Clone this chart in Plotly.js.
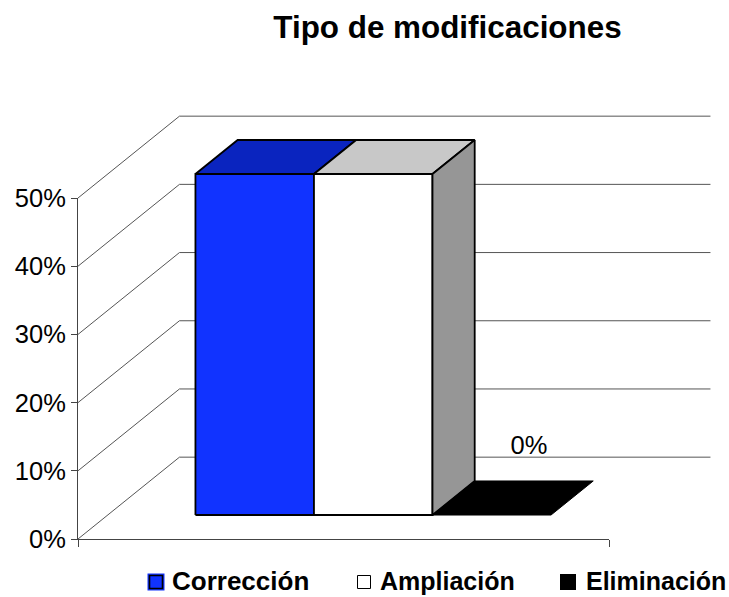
<!DOCTYPE html>
<html>
<head>
<meta charset="utf-8">
<script src="https://cdn.plot.ly/plotly-3.0.1.min.js"></script>
<style>html,body{margin:0;padding:0;background:#fff}</style>
</head>
<body>
<div id="chart" style="width:729px;height:597px"></div>
<script>
const categories = ["Corrección", "Ampliación", "Eliminación"];
const values = [50, 50, 0];
const gridValues = [0, 10, 20, 30, 40, 50];
const chartTitle = "Tipo de modificaciones";

const frontColors = ["#1133FF", "#FFFFFF", "#000000"];
const topColors = ["#0A24BF", "#C8C8C8", "#000000"];
const sideColor = "#969696";

const W = 729, H = 597;
const axisLeft = 78, axisRight = 609, axisTop = 198, axisBottom = 539;
const gapSlots = 0.74;
const xMax = 4.48;
const depthX = 0.856, depthY = 12;
const barNear = 0.293, barFar = 0.709;
const font = "Liberation Sans, Arial, sans-serif";

const slotPx = (axisRight - axisLeft) / xMax;
const pctPx = (axisBottom - axisTop) / 50;
const xFromPx = p => (p - axisLeft) / slotPx;
const yFromPx = p => (axisBottom - p) / pctPx;

const px = (u, d) => u + d * depthX;
const py = (v, d) => v + d * depthY;
const poly = (pts) => ({x: pts.map(p => px(p[0], p[2])), y: pts.map(p => py(p[1], p[2]))});

const traces = [];
gridValues.forEach(v => {
  const l = poly([[0, v, 0], [0, v, 1], [xMax, v, 1]]);
  traces.push({type: "scatter", mode: "lines", x: l.x, y: l.y, showlegend: false, hoverinfo: "skip",
    line: {color: "#555555", width: 1}});
});

function face(pts, fill, lineColor, w) {
  const p = poly(pts.concat([pts[0]]));
  traces.push({type: "scatter", mode: "lines", x: p.x, y: p.y, fill: "toself", fillcolor: fill,
    showlegend: false, hoverinfo: "skip", line: {color: lineColor, width: w}});
}

categories.forEach((c, i) => {
  const a = gapSlots + i, b = a + 1, v = values[i];
  if (v > 0) {
    face([[a, 0, barNear], [b, 0, barNear], [b, v, barNear], [a, v, barNear]], frontColors[i], "#000", 1.8);
    face([[a, v, barNear], [b, v, barNear], [b, v, barFar], [a, v, barFar]], topColors[i], "#000", 1.8);
    if (i === 1) {
      face([[b, 0, barNear], [b, v, barNear], [b, v, barFar], [b, 0, barFar]], sideColor, "#000", 1.8);
    }
  } else {
    face([[a, 0, barNear], [b, 0, barNear], [b, 0, barFar], [a, 0, barFar]], topColors[i], "#000", 1);
    traces.push({type: "scatter", mode: "text", x: [px(a + 0.5, 0.66)], y: [py(v, 0.66) + 5.45], text: [v + "%"],
      textposition: "middle center", textfont: {family: font, size: 25.5, color: "#000"},
      showlegend: false, hoverinfo: "skip"});
  }
});

// key under the chart
const keySwatchPx = [156, 364, 568];
const keyTextPx = [172, 380, 586];
const keyTextSize = [26, 25, 25];
const keySwatchRowPx = 582, keyTextRowPx = 583.5;
categories.forEach((c, i) => {
  if (i === 0) {
    traces.push({type: "scatter", mode: "markers", x: [xFromPx(keySwatchPx[i])], y: [yFromPx(keySwatchRowPx)], showlegend: false,
      hoverinfo: "skip", marker: {symbol: "square", size: 17, color: frontColors[i], line: {width: 0}}});
  }
  traces.push({type: "scatter", mode: "markers", x: [xFromPx(keySwatchPx[i])], y: [yFromPx(keySwatchRowPx)], showlegend: false,
    hoverinfo: "skip", name: c,
    marker: {symbol: "square", size: [13, 13, 16][i], color: frontColors[i], line: {color: "#000", width: [1.6, 1, 0][i]}}});
  traces.push({type: "scatter", mode: "text", x: [xFromPx(keyTextPx[i])], y: [yFromPx(keyTextRowPx)], text: [c], showlegend: false,
    hoverinfo: "skip", textposition: "middle right", textfont: {family: font, size: keyTextSize[i], weight: 700, color: "#000"}});
});

// axis carrier
traces.push({type: "scatter", mode: "markers", x: [null], y: [null], xaxis: "x2", yaxis: "y2", showlegend: false, hoverinfo: "skip"});

const layout = {
  width: W, height: H, paper_bgcolor: "#fff", plot_bgcolor: "rgba(0,0,0,0)",
  margin: {l: 0, r: 0, t: 0, b: 0, pad: 0},
  showlegend: false,
  title: {text: chartTitle, font: {family: font, size: 31.4, weight: 700, color: "#000"},
    x: 447.5 / W, xanchor: "center", xref: "container", y: 0.955, yanchor: "middle", yref: "container"},
  xaxis: {range: [xFromPx(0), xFromPx(W)], visible: false, fixedrange: true},
  yaxis: {range: [yFromPx(H), yFromPx(0)], visible: false, fixedrange: true},
  xaxis2: {domain: [axisLeft / W, axisRight / W], anchor: "y2", range: [0, xMax], tickmode: "array", tickvals: [0, xMax], ticktext: ["", ""],
    ticks: "outside", ticklen: 7, tickcolor: "#444", showgrid: false, zeroline: false, showline: true, linecolor: "#444", linewidth: 1, fixedrange: true},
  yaxis2: {domain: [(H - axisBottom) / H, (H - axisTop) / H], anchor: "x2", range: [0, 50], tickmode: "array", tickvals: gridValues,
    ticktext: gridValues.map(v => v + "%"), ticks: "outside", ticklen: 6, tickcolor: "#444", tickfont: {family: font, size: 25.5, color: "#000"},
    showgrid: false, zeroline: false, showline: true, linecolor: "#444", linewidth: 1, fixedrange: true}
};
Plotly.newPlot("chart", traces, layout, {displayModeBar: false, staticPlot: true});
</script>
</body>
</html>
